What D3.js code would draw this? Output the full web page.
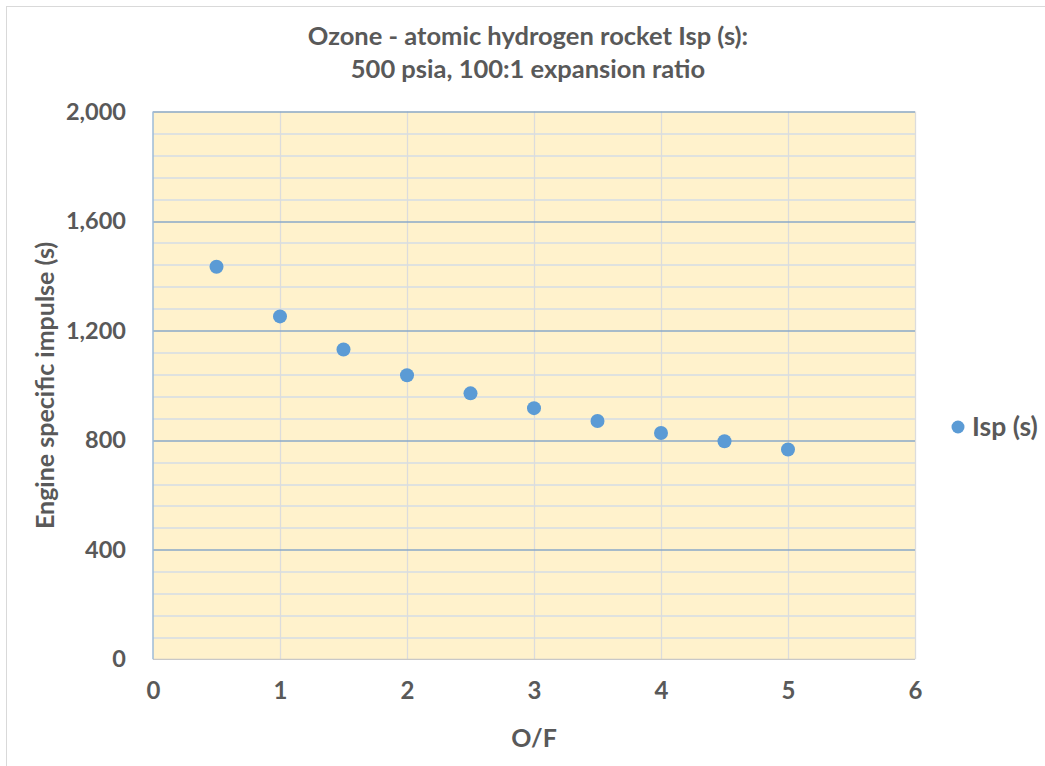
<!DOCTYPE html>
<html>
<head>
<meta charset="utf-8">
<script src="https://cdn.jsdelivr.net/npm/d3@7"></script>
<style>
  body { margin: 0; background: #fff; }
  text { font-family: Lato, "Open Sans", sans-serif; font-weight: bold; fill: #595959; }
</style>
</head>
<body>
<div id="chart"></div>
<script>
const ofRatio = [0.5, 1, 1.5, 2, 2.5, 3, 3.5, 4, 4.5, 5];
const ispValues = [1433, 1252, 1131, 1037, 971, 917, 870, 826, 796, 766];
const xTicks = [0, 1, 2, 3, 4, 5, 6];
const yTicks = [0, 400, 800, 1200, 1600, 2000];
const yMinorTicks = d3.range(0, 2001, 80);
const titleLines = ['Ozone - atomic hydrogen rocket Isp (s):', '500 psia, 100:1 expansion ratio'];
const seriesName = 'Isp (s)';

const width = 1045;
const height = 766;
const margin = { top: 111.5, right: 130, bottom: 106.7, left: 153 };

const svg = d3.select('#chart').append('svg').attr('width', width).attr('height', height);

// outer chart border
svg.append('rect')
  .attr('x', 6.5).attr('y', 6.5)
  .attr('width', width).attr('height', height)
  .attr('fill', 'none').attr('stroke', '#d9d9d9');

const innerW = width - margin.left - margin.right;
const innerH = height - margin.top - margin.bottom;

const x = d3.scaleLinear().domain([0, 6]).range([0, innerW]);
const y = d3.scaleLinear().domain([0, 2000]).range([innerH, 0]);

const g = svg.append('g').attr('transform', `translate(${margin.left},${margin.top})`);

g.append('rect').attr('width', innerW).attr('height', innerH).attr('fill', '#fff2cc');

// minor horizontal gridlines
g.append('g').selectAll('line')
  .data(yMinorTicks.filter(v => v % 400 !== 0))
  .join('line')
  .attr('x1', 0).attr('x2', innerW)
  .attr('y1', d => Math.round(y(d)) + 0.5).attr('y2', d => Math.round(y(d)) + 0.5)
  .attr('stroke', '#d5dde6').attr('stroke-width', 1.3);

// vertical gridlines
g.append('g').selectAll('line')
  .data(xTicks.slice(1))
  .join('line')
  .attr('x1', d => Math.round(x(d)) + 0.5).attr('x2', d => Math.round(x(d)) + 0.5)
  .attr('y1', 0).attr('y2', innerH)
  .attr('stroke', '#dcdcdc').attr('stroke-width', 1.3);

// major horizontal gridlines
g.append('g').selectAll('line')
  .data(yTicks.slice(1))
  .join('line')
  .attr('x1', 0).attr('x2', innerW)
  .attr('y1', d => Math.round(y(d)) + 0.5).attr('y2', d => Math.round(y(d)) + 0.5)
  .attr('stroke', '#8aa9c8').attr('stroke-width', 1.3);

// bottom and left axis lines
g.append('line').attr('x1', 0).attr('x2', innerW).attr('y1', innerH).attr('y2', innerH)
  .attr('stroke', '#c8c8c8').attr('stroke-width', 1.3);
g.append('line').attr('x1', 0).attr('x2', 0).attr('y1', 0).attr('y2', innerH)
  .attr('stroke', '#9dbbd9').attr('stroke-width', 1.5);

// axes (labels only)
const xAxis = d3.axisBottom(x).tickValues(xTicks).tickSize(0).tickPadding(23).tickFormat(d3.format('d'));
g.append('g').attr('class', 'x axis')
  .attr('transform', `translate(0,${innerH})`)
  .call(xAxis)
  .call(sel => sel.select('.domain').remove())
  .selectAll('text').style('font-size', '24px');

const yAxis = d3.axisLeft(y).tickValues(yTicks).tickSize(0).tickPadding(27).tickFormat(d3.format(','));
g.append('g').attr('class', 'y axis')
  .call(yAxis)
  .call(sel => sel.select('.domain').remove())
  .selectAll('text').style('font-size', '23.5px');

g.selectAll('.axis text')
  .style('font-family', 'Lato, sans-serif')
  .style('font-weight', 'bold')
  .style('fill', '#595959');

// points
g.append('g').selectAll('circle')
  .data(ofRatio.map((o, i) => ({ o, v: ispValues[i] })))
  .join('circle')
  .attr('cx', d => x(d.o))
  .attr('cy', d => y(d.v))
  .attr('r', 7)
  .attr('fill', '#5b9bd5');

// titles
svg.append('g').selectAll('text')
  .data(titleLines)
  .join('text')
  .attr('x', 528)
  .attr('y', (d, i) => 45 + i * 33)
  .attr('text-anchor', 'middle')
  .style('font-size', '25.5px')
  .text(d => d);

svg.append('text')
  .attr('x', margin.left + innerW / 2)
  .attr('y', 747)
  .attr('text-anchor', 'middle')
  .style('font-size', '25px')
  .text('O/F');

svg.append('text')
  .attr('transform', `translate(54,${margin.top + innerH / 2}) rotate(-90)`)
  .attr('text-anchor', 'middle')
  .style('font-size', '25px')
  .text('Engine specific impulse (s)');

// legend
const legend = svg.append('g').attr('transform', 'translate(958,427)');
legend.append('circle').attr('r', 6.5).attr('fill', '#5b9bd5');
legend.append('text').attr('x', 14).attr('y', 9).style('font-size', '26.5px').text(seriesName);
</script>
</body>
</html>
